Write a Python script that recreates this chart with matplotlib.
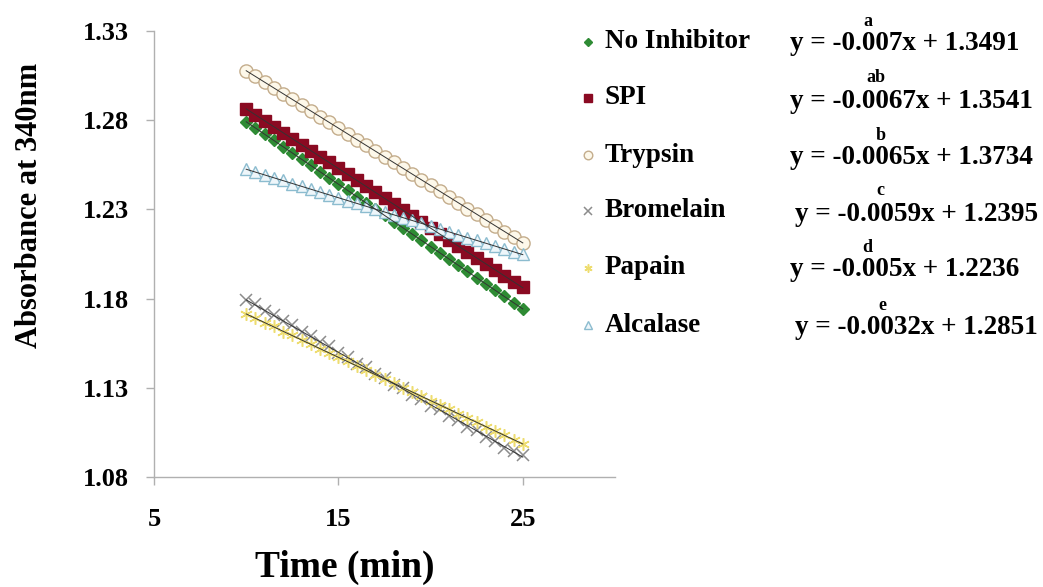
import matplotlib
matplotlib.use("Agg")
import matplotlib.pyplot as plt
from matplotlib.lines import Line2D
import numpy as np

plt.rcParams['font.family'] = ['Liberation Serif', 'DejaVu Serif']
plt.rcParams['font.weight'] = 'bold'

# time points (min)
times = [10, 10.5, 11, 11.5, 12, 12.5, 13, 13.5, 14, 14.5, 15, 15.5, 16, 16.5, 17, 17.5,
         18, 18.5, 19, 19.5, 20, 20.5, 21, 21.5, 22, 22.5, 23, 23.5, 24, 24.5, 25]

no_inhibitor = [1.2790, 1.2757, 1.2720, 1.2688, 1.2650, 1.2617, 1.2580, 1.2548, 1.2511, 1.2477,
                1.2442, 1.2406, 1.2371, 1.2337, 1.2302, 1.2266, 1.2231, 1.2197, 1.2162, 1.2126,
                1.2092, 1.2057, 1.2021, 1.1987, 1.1952, 1.1917, 1.1882, 1.1847, 1.1812, 1.1776,
                1.1742]
spi = [1.2862, 1.2831, 1.2797, 1.2764, 1.2730, 1.2697, 1.2663, 1.2630, 1.2596, 1.2563,
       1.2530, 1.2496, 1.2463, 1.2429, 1.2396, 1.2362, 1.2329, 1.2295, 1.2262, 1.2228,
       1.2195, 1.2161, 1.2128, 1.2094, 1.2061, 1.2027, 1.1994, 1.1960, 1.1927, 1.1893,
       1.1866]
trypsin = [1.3075, 1.3046, 1.3012, 1.2981, 1.2948, 1.2917, 1.2884, 1.2853, 1.2820, 1.2789,
           1.2755, 1.2724, 1.2691, 1.2660, 1.2627, 1.2595, 1.2563, 1.2531, 1.2498, 1.2467,
           1.2434, 1.2402, 1.2369, 1.2338, 1.2305, 1.2273, 1.2240, 1.2209, 1.2176, 1.2144,
           1.2111]
bromelain = [1.1790, 1.1768, 1.1731, 1.1710, 1.1672, 1.1651, 1.1613, 1.1592, 1.1554, 1.1533,
             1.1495, 1.1474, 1.1436, 1.1415, 1.1377, 1.1356, 1.1318, 1.1297, 1.1259, 1.1238,
             1.1200, 1.1179, 1.1141, 1.1120, 1.1082, 1.1061, 1.1023, 1.1002, 1.0964, 1.0943,
             1.0925]
papain = [1.1712, 1.1693, 1.1662, 1.1645, 1.1614, 1.1594, 1.1568, 1.1545, 1.1519, 1.1497,
          1.1470, 1.1448, 1.1422, 1.1398, 1.1373, 1.1350, 1.1325, 1.1301, 1.1276, 1.1253,
          1.1227, 1.1204, 1.1179, 1.1155, 1.1130, 1.1107, 1.1082, 1.1058, 1.1034, 1.1010,
          1.0986]
alcalase = [1.2527, 1.2508, 1.2495, 1.2476, 1.2462, 1.2444, 1.2430, 1.2412, 1.2398, 1.2380,
            1.2366, 1.2349, 1.2334, 1.2317, 1.2302, 1.2286, 1.2270, 1.2254, 1.2238, 1.2222,
            1.2206, 1.2190, 1.2174, 1.2158, 1.2142, 1.2126, 1.2110, 1.2094, 1.2078, 1.2062,
            1.2048]

labels = ["No Inhibitor", "SPI", "Trypsin", "Bromelain", "Papain", "Alcalase"]
equations = ["y = -0.007x + 1.3491", "y = -0.0067x + 1.3541", "y = -0.0065x + 1.3734",
             "y = -0.0059x + 1.2395", "y = -0.005x + 1.2236", "y = -0.0032x + 1.2851"]
letters = ["a", "ab", "b", "c", "d", "e"]

series = [no_inhibitor, spi, trypsin, bromelain, papain, alcalase]
styles = [
    dict(marker='D', ms=6.5, mfc='#2e8b34', mec='#2e8b34'),
    dict(marker='s', ms=8.5, mfc='#8a0a22', mec='#8a0a22'),
    dict(marker='o', ms=9.5, mfc='#fdf8ea', mec='#c4ad8c', mew=1.0),
    dict(marker='x', ms=8.5, mec='#8c8c8c', mew=1.1),
    dict(marker=(6, 2, 0), ms=9, mec='#eedd70', mew=1.1),
    dict(marker='^', ms=9, mfc='#eef6fa', mec='#8cbccf', mew=1.0),
]

W, H = 1043, 587
fig = plt.figure(figsize=(W / 100, H / 100), dpi=100)
ax = fig.add_axes([154 / W, 1 - 477 / H, (615 - 154) / W, (477 - 31) / H])

x = np.array(times)
for ys, st in zip(series, styles):
    ax.plot(x, ys, ls='none', zorder=3, **st)
# linear trendlines
for ys in series:
    k, b = np.polyfit(x, ys, 1)
    ax.plot(x, k * x + b, color='#333333', lw=0.7, zorder=4)

ax.set_xlim(5, 30)
ax.set_ylim(1.08, 1.33)
ax.set_xticks([5, 15, 25])
ax.set_yticks([1.08, 1.13, 1.18, 1.23, 1.28, 1.33])
ax.set_yticklabels(["1.08", "1.13", "1.18", "1.23", "1.28", "1.33"])
for s in ['top', 'right']:
    ax.spines[s].set_visible(False)
for s in ['left', 'bottom']:
    ax.spines[s].set_color('#b0b0b0')
    ax.spines[s].set_linewidth(1.0)
ax.tick_params(axis='both', colors='#b0b0b0', length=6, width=1, labelsize=19,
               labelcolor='black')
ax.tick_params(axis='y', pad=12)
ax.tick_params(axis='x', pad=16)
for lab in ax.get_xticklabels() + ax.get_yticklabels():
    lab.set_fontweight('bold')

fig.text(30 / W, 1 - 205 / H, "Absorbance at 340nm", rotation=90, fontsize=22,
         fontweight='bold', ha='center', va='center')
fig.text(345 / W, 1 - 567 / H, "Time (min)", fontsize=27, fontweight='bold',
         ha='center', va='center')

# legend rows and fitted equations
row_y = [42, 98, 155, 211, 268, 325]
eq_y = [44, 101, 158, 214, 270, 328]
eq_x = [790, 790, 790, 795, 790, 795]
let_x = [868, 876, 881, 880, 867, 882]
for i, lab in enumerate(labels):
    st = dict(styles[i])
    st['ms'] = st['ms'] * 0.65
    fig.add_artist(Line2D([588 / W], [1 - row_y[i] / H], transform=fig.transFigure,
                          ls='none', **st))
    fig.text(605 / W, 1 - row_y[i] / H, lab, fontsize=19.5, fontweight='bold',
             ha='left', va='center')
    fig.text(eq_x[i] / W, 1 - eq_y[i] / H, equations[i], fontsize=19.5, fontweight='bold',
             ha='left', va='center')
    fig.text(let_x[i] / W, 1 - (eq_y[i] - 23) / H, letters[i], fontsize=13,
             fontweight='bold', ha='center', va='center')

fig.savefig("out.png", dpi=100)
